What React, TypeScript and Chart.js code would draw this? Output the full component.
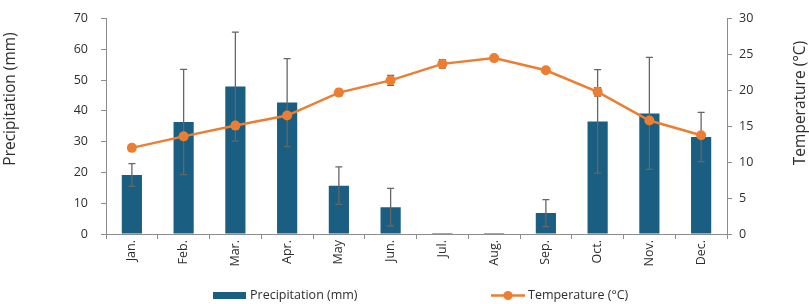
import React, { useEffect, useRef } from 'react';
import { Chart, registerables } from 'chart.js';

Chart.register(...registerables);

const months = ['Jan.', 'Feb.', 'Mar.', 'Apr.', 'May', 'Jun.', 'Jul.', 'Aug.', 'Sep.', 'Oct.', 'Nov.', 'Dec.'];
const precipitation = [19.2, 36.4, 47.9, 42.7, 15.7, 8.7, 0.3, 0.3, 6.8, 36.6, 39.2, 31.5];
const precipitationErr = [3.7, 17.1, 17.7, 14.3, 6.1, 6.1, 0, 0, 4.4, 16.8, 18.2, 8.0];
const temperature = [12.0, 13.6, 15.1, 16.5, 19.7, 21.4, 23.7, 24.5, 22.8, 19.8, 15.8, 13.75];
const temperatureErr = [0.2, 0.2, 0.2, 0.2, 0.45, 0.7, 0.6, 0.1, 0.2, 0.6, 0.2, 0.2];

const BAR_COLOR = '#1A5E82';
const LINE_COLOR = '#ED7D31';
const TEXT_COLOR = '#2E2E2E';
const AXIS_COLOR = '#8C8C8C';
const ERR_COLOR = '#666666';
const FONT = '"Open Sans", "Liberation Sans", sans-serif';

function drawErrors(chart: any, dsIndex: number, values: number[], errs: number[], axisId: string, capHalf: number) {
  const meta = chart.getDatasetMeta(dsIndex);
  const scale = chart.scales[axisId];
  const ctx = chart.ctx;
  ctx.save();
  ctx.strokeStyle = ERR_COLOR;
  ctx.lineWidth = 1.3;
  meta.data.forEach((el: any, i: number) => {
    const e = errs[i];
    if (!e) return;
    const x = el.x;
    const yTop = scale.getPixelForValue(values[i] + e);
    const yBot = scale.getPixelForValue(values[i] - e);
    ctx.beginPath();
    ctx.moveTo(x, yTop);
    ctx.lineTo(x, yBot);
    ctx.moveTo(x - capHalf, yTop);
    ctx.lineTo(x + capHalf, yTop);
    ctx.moveTo(x - capHalf, yBot);
    ctx.lineTo(x + capHalf, yBot);
    ctx.stroke();
  });
  ctx.restore();
}

const errorBarsPlugin = {
  id: 'errorBars',
  afterDatasetDraw(chart: any, args: any) {
    if (args.index === 0) drawErrors(chart, 0, precipitation, precipitationErr, 'y', 3.5);
  },
  beforeDatasetDraw(chart: any, args: any) {
    if (args.index === 1) drawErrors(chart, 1, temperature, temperatureErr, 'y1', 3.5);
  },
};

const axisTitlesPlugin = {
  id: 'axisTitles',
  afterDraw(chart: any) {
    const ctx = chart.ctx;
    ctx.save();
    ctx.fillStyle = TEXT_COLOR;
    ctx.font = `15.5px ${FONT}`;
    ctx.textAlign = 'center';
    ctx.textBaseline = 'middle';
    const draw = (text: string, x: number, y: number) => {
      ctx.save();
      ctx.translate(x, y);
      ctx.rotate(-Math.PI / 2);
      ctx.fillText(text, 0, 0);
      ctx.restore();
    };
    draw(chart.options.scales.y.title.text, 11, 99);
    draw(chart.options.scales.y1.title.text, 801, 103);
    ctx.restore();
  },
};

const legendPlugin = {
  id: 'customLegend',
  afterDraw(chart: any) {
    const ctx = chart.ctx;
    const ds = chart.data.datasets;
    const y = 295.5;
    ctx.save();
    ctx.font = `12.5px ${FONT}`;
    ctx.textBaseline = 'middle';
    ctx.textAlign = 'left';
    ctx.fillStyle = BAR_COLOR;
    ctx.fillRect(213, 292, 33, 7);
    ctx.fillStyle = TEXT_COLOR;
    ctx.fillText(ds[0].label, 250, y);
    ctx.strokeStyle = LINE_COLOR;
    ctx.lineWidth = 2.5;
    ctx.beginPath();
    ctx.moveTo(491, y);
    ctx.lineTo(525, y);
    ctx.stroke();
    ctx.fillStyle = LINE_COLOR;
    ctx.beginPath();
    ctx.arc(508, y, 4.5, 0, Math.PI * 2);
    ctx.fill();
    ctx.fillStyle = TEXT_COLOR;
    ctx.fillText(ds[1].label, 528, y);
    ctx.restore();
  },
};

export default function App() {
  const ref = useRef<HTMLCanvasElement>(null);

  useEffect(() => {
    document.body.style.margin = '0';
    const tickFont = { family: FONT, size: 12.5, lineHeight: 0.9 };
    const chart = new Chart(ref.current!, {
      type: 'bar',
      data: {
        labels: months,
        datasets: [
          {
            type: 'bar',
            label: 'Precipitation (mm)',
            data: precipitation,
            backgroundColor: BAR_COLOR,
            borderWidth: 0,
            barPercentage: 0.39,
            categoryPercentage: 1,
            yAxisID: 'y',
            order: 2,
          },
          {
            type: 'line',
            label: 'Temperature (°C)',
            data: temperature,
            borderColor: LINE_COLOR,
            backgroundColor: LINE_COLOR,
            borderWidth: 2.5,
            pointRadius: 5,
            pointBorderWidth: 0,
            pointBackgroundColor: LINE_COLOR,
            tension: 0,
            yAxisID: 'y1',
            order: 1,
          } as any,
        ],
      },
      options: {
        responsive: false,
        maintainAspectRatio: false,
        animation: false,
        layout: { padding: { top: 6, left: 0, right: 0, bottom: 0 } },
        plugins: {
          legend: { display: false },
          tooltip: { enabled: false },
        },
        scales: {
          x: {
            afterFit: (s: any) => { s.height = 70; },
            grid: {
              display: true,
              drawOnChartArea: false,
              offset: true,
              tickLength: 5,
              color: AXIS_COLOR,
            },
            border: { display: true, color: AXIS_COLOR, width: 1 },
            ticks: {
              color: TEXT_COLOR,
              font: { family: FONT, size: 12.5 },
              minRotation: 90,
              maxRotation: 90,
              autoSkip: false,
              padding: 1,
            },
          },
          y: {
            position: 'left',
            min: 0,
            max: 70,
            afterFit: (s: any) => { s.width = 106; },
            title: { display: false, text: 'Precipitation (mm)' },
            grid: { drawOnChartArea: false, tickLength: 5, color: AXIS_COLOR },
            border: { display: true, color: AXIS_COLOR, width: 1 },
            ticks: { stepSize: 10, color: TEXT_COLOR, font: tickFont, padding: 13 },
          },
          y1: {
            position: 'right',
            min: 0,
            max: 30,
            afterFit: (s: any) => { s.width = 82; },
            title: { display: false, text: 'Temperature (°C)' },
            grid: { drawOnChartArea: false, tickLength: 5, color: AXIS_COLOR },
            border: { display: true, color: AXIS_COLOR, width: 1 },
            ticks: { stepSize: 5, color: TEXT_COLOR, font: tickFont, padding: 7 },
          },
        } as any,
      },
      plugins: [errorBarsPlugin, axisTitlesPlugin, legendPlugin],
    });
    return () => chart.destroy();
  }, []);

  return (
    <div style={{ width: 809, height: 304 }}>
      <canvas ref={ref} width={809} height={304} style={{ display: 'block' }} />
    </div>
  );
}
